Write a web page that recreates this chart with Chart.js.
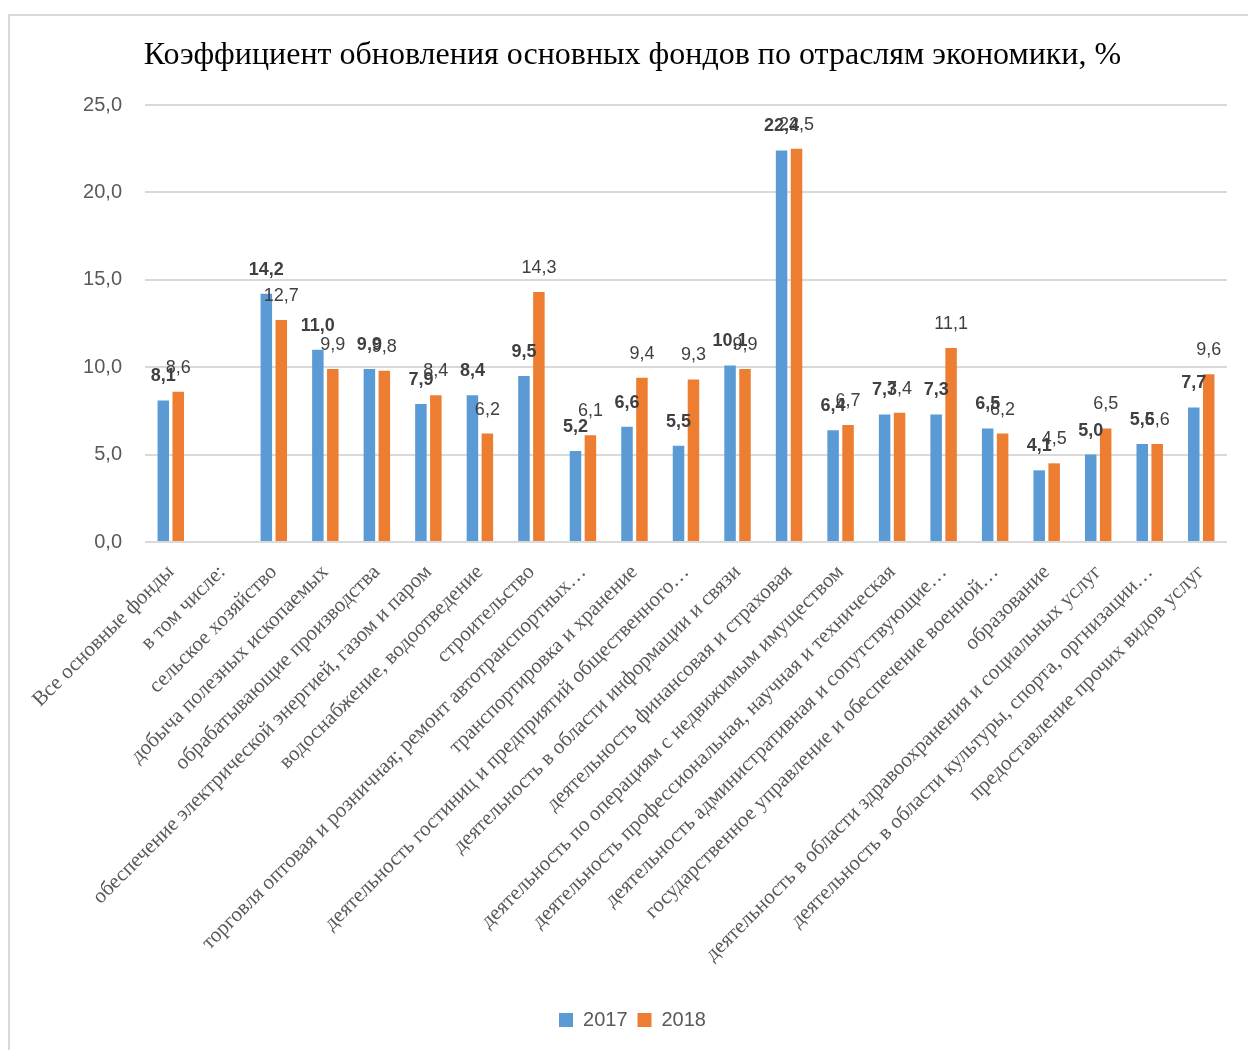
<!DOCTYPE html>
<html>
<head>
<meta charset="utf-8">
<script src="https://cdn.jsdelivr.net/npm/chart.js@4.4.1/dist/chart.umd.min.js"></script>
<style>
  html, body { margin: 0; padding: 0; background: #ffffff; }
  #wrap { position: relative; width: 1248px; height: 1050px; overflow: hidden; }
  #frame { position: absolute; left: 8px; top: 14px; width: 1300px; height: 1100px;
           border-left: 2px solid #d9d9d9; border-top: 2px solid #d9d9d9; box-sizing: border-box; }
  canvas { position: absolute; left: 0; top: 0; }
</style>
</head>
<body>
<div id="wrap">
  <div id="frame"></div>
  <canvas id="c" width="1248" height="1050"></canvas>
</div>
<script>
const chartTitle = 'Коэффициент обновления основных фондов по отраслям экономики, %';

const categories = [
  'Все основные фонды',
  'в том числе:',
  'сельское хозяйство',
  'добыча полезных ископаемых',
  'обрабатывающие производства',
  'обеспечение электрической энергией, газом и паром',
  'водоснабжение, водоотведение',
  'строительство',
  'торговля оптовая и розничная; ремонт автотранспортных…',
  'транспортировка и хранение',
  'деятельность гостиниц и предприятий общественного…',
  'деятельность в области информации и связи',
  'деятельность финансовая и страховая',
  'деятельность по операциям с недвижимым имуществом',
  'деятельность профессиональная, научная и техническая',
  'деятельность административная и сопутствующие…',
  'государственное управление и обеспечение военной…',
  'образование',
  'деятельность в области здравоохранения и социальных услуг',
  'деятельность в области культуры, спорта, оргнизации…',
  'предоставление прочих видов услуг'
];

const seriesNames = ['2017', '2018'];

const values2017 = [8.1, null, 14.2, 11.0, 9.9, 7.9, 8.4, 9.5, 5.2, 6.6, 5.5, 10.1, 22.4, 6.4, 7.3, 7.3, 6.5, 4.1, 5.0, 5.6, 7.7];
const values2018 = [8.6, null, 12.7, 9.9, 9.8, 8.4, 6.2, 14.3, 6.1, 9.4, 9.3, 9.9, 22.5, 6.7, 7.4, 11.1, 6.2, 4.5, 6.5, 5.6, 9.6];

const yTicks = [0, 5, 10, 15, 20, 25];

const fmt = v => v.toFixed(1).replace('.', ',');

const valueLabels = {
  id: 'valueLabels',
  afterDatasetsDraw(chart) {
    const ctx = chart.ctx;
    ctx.save();
    ctx.textAlign = 'center';
    ctx.textBaseline = 'middle';
    chart.data.datasets.forEach((ds, di) => {
      const meta = chart.getDatasetMeta(di);
      ctx.font = (di === 0 ? 'bold ' : '') + '18px "Liberation Sans", Arial, sans-serif';
      ctx.fillStyle = '#404040';
      meta.data.forEach((el, i) => {
        const v = ds.data[i];
        if (v === null || v === undefined) return;
        ctx.fillText(fmt(v), el.x, el.y - 24);
      });
    });
    ctx.restore();
  }
};

new Chart(document.getElementById('c'), {
  type: 'bar',
  data: {
    labels: categories,
    datasets: [
      { label: seriesNames[0], data: values2017, backgroundColor: '#5B9BD5',
        categoryPercentage: 0.58, barPercentage: 0.77 },
      { label: seriesNames[1], data: values2018, backgroundColor: '#ED7D31',
        categoryPercentage: 0.58, barPercentage: 0.77 }
    ]
  },
  options: {
    responsive: false,
    animation: false,
    devicePixelRatio: 1,
    layout: { padding: { left: 38, right: 21, top: 0, bottom: 10 } },
    plugins: {
      title: {
        display: true,
        text: chartTitle,
        color: '#000000',
        font: { family: '"Liberation Serif", "Times New Roman", serif', size: 32, weight: 'normal', lineHeight: 1.2 },
        padding: { top: 36, bottom: 30.6 }
      },
      legend: {
        display: true,
        position: 'bottom',
        labels: {
          color: '#595959',
          font: { family: '"Liberation Sans", Arial, sans-serif', size: 20 },
          boxWidth: 14, boxHeight: 14, padding: 10
        }
      },
      tooltip: { enabled: false }
    },
    scales: {
      x: {
        grid: { display: false, drawTicks: false },
        border: { display: false },
        ticks: {
          autoSkip: false, minRotation: 45, maxRotation: 45, padding: 18,
          color: '#595959',
          font: { family: '"Liberation Serif", "Times New Roman", serif', size: 21 }
        },
        afterFit(scale) { scale.height = 458; }
      },
      y: {
        min: 0, max: 25,
        afterBuildTicks(scale) { scale.ticks = yTicks.map(v => ({ value: v })); },
        grid: { color: '#d9d9d9', lineWidth: 2, drawTicks: false },
        border: { display: false },
        ticks: {
          padding: 23,
          color: '#595959',
          font: { family: '"Liberation Sans", Arial, sans-serif', size: 20 },
          callback: v => fmt(v)
        },
        afterFit(scale) { scale.width = 107; }
      }
    }
  },
  plugins: [valueLabels]
});
</script>
</body>
</html>
